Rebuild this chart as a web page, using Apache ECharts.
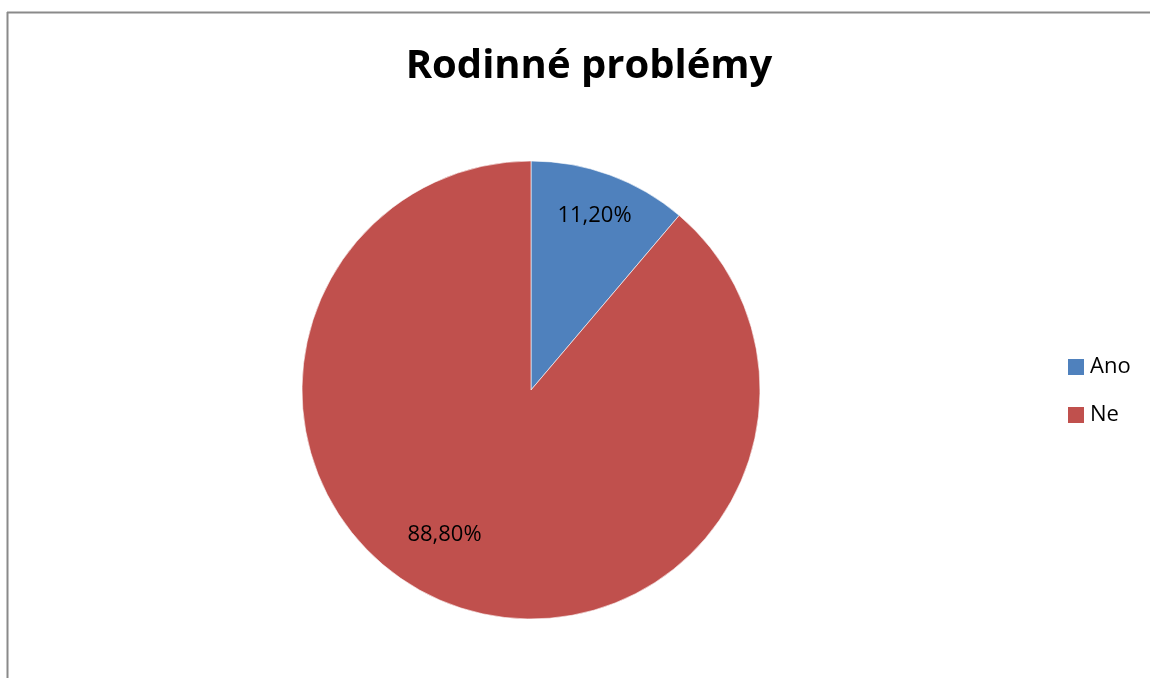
<!DOCTYPE html>
<html>
<head>
<meta charset="utf-8">
<script src="https://cdn.jsdelivr.net/npm/echarts@6/dist/echarts.min.js"></script>
<style>
html,body{margin:0;padding:0;background:#fff;}
#chart{width:1150px;height:678px;}
</style>
</head>
<body>
<div id="chart"></div>
<script>
const titleText = 'Rodinné problémy';
const categories = ['Ano', 'Ne'];
const values = [11.2, 88.8];
const colors = ['#4F81BD', '#C0504D'];

const chart = echarts.init(document.getElementById('chart'), null, {renderer: 'canvas'});
const labelOffsets = [[23, -64], [-46, 34]];
chart.setOption({
  animation: false,
  backgroundColor: '#ffffff',
  title: {
    text: titleText,
    left: 584,
    textAlign: 'center',
    top: 38,
    textStyle: {fontFamily: 'Open Sans', fontWeight: 'bold', fontSize: 40, lineHeight: 48, color: '#000'}
  },
  legend: {
    orient: 'vertical',
    left: 1063,
    top: 350,
    itemWidth: 16,
    itemHeight: 16,
    itemGap: 24,
    icon: 'rect',
    itemStyle: {borderWidth: 0},
    data: categories,
    textStyle: {fontFamily: 'Open Sans', fontSize: 22, lineHeight: 24, color: '#000', padding: [0, 0, 0, 1]}
  },
  graphic: [
    {type: 'line', shape: {x1: 7, y1: 12.5, x2: 1150, y2: 12.5}, style: {stroke: '#8a8a8a', lineWidth: 2}},
    {type: 'line', shape: {x1: 7.5, y1: 12, x2: 7.5, y2: 678}, style: {stroke: '#8a8a8a', lineWidth: 2}}
  ],
  series: [{
    type: 'pie',
    center: [531, 390],
    radius: 229,
    startAngle: 90,
    clockwise: true,
    silent: true,
    itemStyle: {borderColor: '#ffffff', borderWidth: 0.6},
    label: {
      position: 'inside',
      fontFamily: 'Open Sans',
      fontSize: 22,
      color: '#000',
      formatter: function (p) { return p.value.toFixed(2).replace('.', ',') + '%'; }
    },
    labelLine: {show: false},
    data: categories.map(function (c, i) {
      return {name: c, value: values[i], itemStyle: {color: colors[i]}, label: {offset: labelOffsets[i]}};
    })
  }]
});
</script>
</body>
</html>
